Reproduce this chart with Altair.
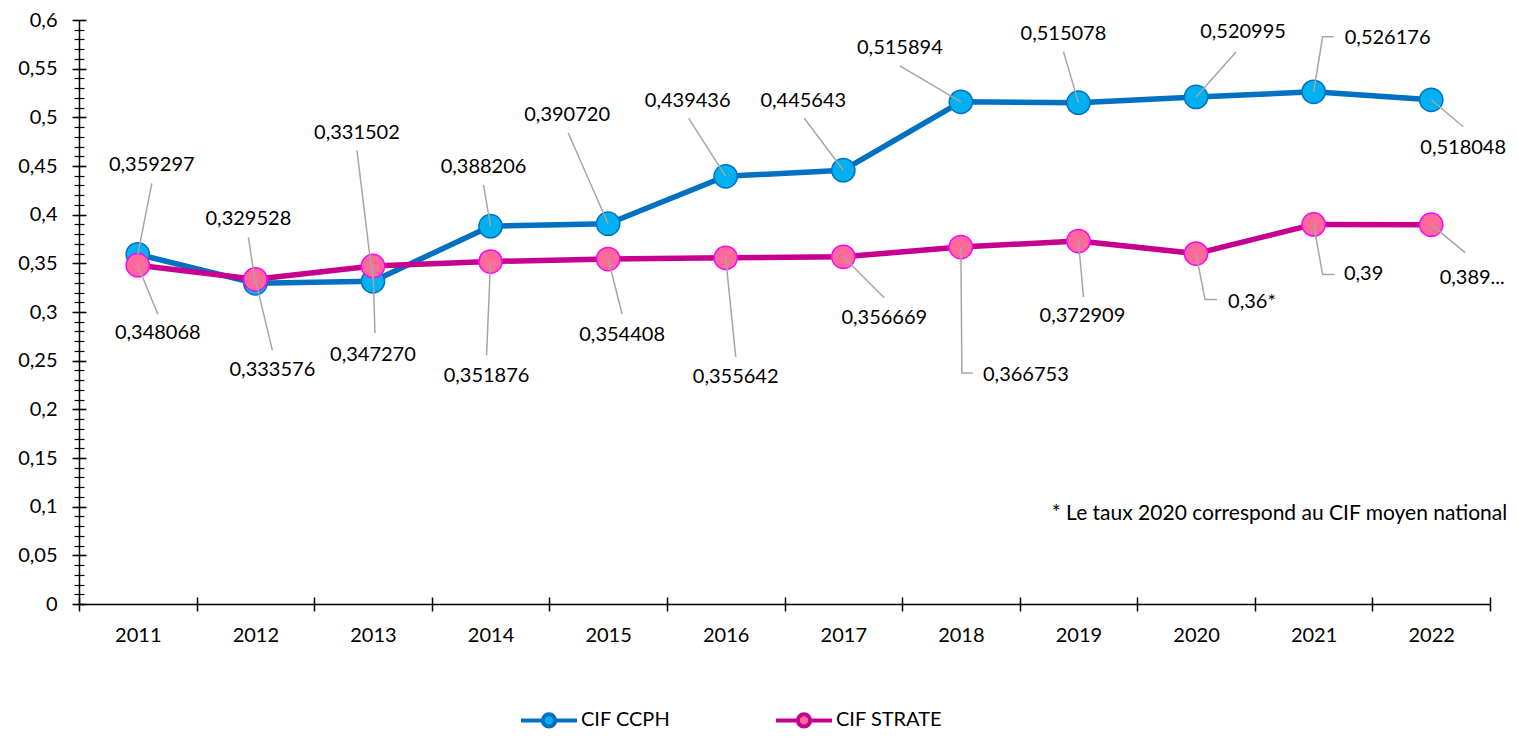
import altair as alt
import pandas as pd

# ---------------- data ----------------
YEARS = [2011, 2012, 2013, 2014, 2015, 2016, 2017, 2018, 2019, 2020, 2021, 2022]
SERIES = ["CIF CCPH", "CIF STRATE"]
CCPH = [0.359297, 0.329528, 0.331502, 0.388206, 0.390720, 0.439436,
        0.445643, 0.515894, 0.515078, 0.520995, 0.526176, 0.518048]
STRATE = [0.348068, 0.333576, 0.347270, 0.351876, 0.354408, 0.355642,
          0.356669, 0.366753, 0.372909, 0.36, 0.39, 0.3897]
CCPH_LABELS = ["0,359297", "0,329528", "0,331502", "0,388206", "0,390720", "0,439436",
               "0,445643", "0,515894", "0,515078", "0,520995", "0,526176", "0,518048"]
STRATE_LABELS = ["0,348068", "0,333576", "0,347270", "0,351876", "0,354408", "0,355642",
                 "0,356669", "0,366753", "0,372909", "0,36*", "0,39", "0,389..."]
NOTE = "* Le taux 2020 correspond au CIF moyen national"
NOTE_AT = (2020.71, 0.0925)

# ---------------- label layout (pixel offsets from each point: right, down) ----------------
CCPH_LABEL_OFFSETS = [(14, -89), (-7, -64), (-16, -148), (-7, -59), (-41, -109), (-38, -75),
                      (-40, -69), (-61, -54), (-15, -69), (47, -65), (74, -54), (32, 48)]
CCPH_LEADERS = [[(14, -71)], [(-7, -46)], [(-16, -131)], [(-7, -41)], [(-40, -91)], [(-37, -58)],
                [(-39, -52)], [(-61, -36)], [(-15, -51)], [(40, -45)], [(9, -55), (20, -55)], [(32, 27)]]
STRATE_LABEL_OFFSETS = [(20, 68), (17, 91), (0, 89), (-4, 114), (14, 76), (10, 119),
                        (41, 61), (65, 128), (4, 75), (56, 48), (50, 50), (41, 53)]
STRATE_LEADERS = [[(20, 49)], [(17, 71)], [(2, 67)], [(-4, 94)], [(14, 55)], [(10, 99)],
                  [(41, 41)], [(1, 126), (12, 126)], [(5, 56)], [(9, 46), (21, 46)],
                  [(9, 50), (21, 50)], [(34, 28)]]

# ---------------- geometry ----------------
W, H = 1411, 584
X_DOMAIN = [2010.5, 2022.5]
Y_DOMAIN = [0, 0.6]
PX_X = W / (X_DOMAIN[1] - X_DOMAIN[0])
PX_Y = H / (Y_DOMAIN[1] - Y_DOMAIN[0])

C_LINE, C_FILL, C_EDGE = "#0070C0", "#00B0F0", "#0070C0"
S_LINE, S_FILL, S_EDGE = "#C6008E", "#FF6A9A", "#FF00FF"
GREY = "#A6A6A6"
FONT = "Lato"

points, labels, leaders = [], [], []
for name, vals, texts, offs, legs in [
    (SERIES[0], CCPH, CCPH_LABELS, CCPH_LABEL_OFFSETS, CCPH_LEADERS),
    (SERIES[1], STRATE, STRATE_LABELS, STRATE_LABEL_OFFSETS, STRATE_LEADERS),
]:
    for yr, v, t, (dx, dy), verts in zip(YEARS, vals, texts, offs, legs):
        points.append({"series": name, "year": yr, "value": v})
        labels.append({"series": name, "text": t,
                       "lx": yr + dx / PX_X, "ly": v - dy / PX_Y})
        lid = f"{name}-{yr}"
        leaders.append({"id": lid, "k": 0, "lx": yr, "ly": v})
        for k, (ex, ey) in enumerate(verts, start=1):
            leaders.append({"id": lid, "k": k, "lx": yr + ex / PX_X, "ly": v - ey / PX_Y})

df_points = pd.DataFrame(points)
df_labels = pd.DataFrame(labels)
df_leaders = pd.DataFrame(leaders)
df_note = pd.DataFrame([{"lx": NOTE_AT[0], "ly": NOTE_AT[1], "text": NOTE}])

x_scale = alt.Scale(domain=X_DOMAIN, nice=False, zero=False)
y_scale = alt.Scale(domain=Y_DOMAIN, nice=False, zero=False)
stroke_scale = alt.Scale(domain=SERIES, range=[C_LINE, S_LINE])
fill_scale = alt.Scale(domain=SERIES, range=[C_FILL, S_FILL])

Y_MAJOR = [round(i * 0.05, 2) for i in range(13)]
Y_MINOR = [round(i * 0.01, 2) for i in range(61)]
X_BOUNDS = [X_DOMAIN[0] + i for i in range(13)]

x_main = alt.Axis(orient="bottom", values=YEARS, format="d", ticks=False, tickSize=0,
                  labelPadding=21, labelFont=FONT, labelFontSize=20, labelColor="black",
                  domainColor="black", domainWidth=1.5, grid=False, title=None,
                  labelFlush=False, labelOverlap=False)
x_ticks = alt.Axis(orient="bottom", values=X_BOUNDS, labels=False, domain=False,
                   tickSize=14, offset=-7, tickColor="black", tickWidth=1.5,
                   grid=False, title=None)
y_main = alt.Axis(orient="left", values=Y_MAJOR,
                  labelExpr="replace(format(datum.value, '.2~f'), '.', ',')",
                  ticks=False, tickSize=0, labelPadding=22, labelFont=FONT,
                  labelFontSize=20, labelColor="black", domainColor="black",
                  domainWidth=1.5, grid=False, title=None, labelFlush=False,
                  labelOverlap=False)
y_major = alt.Axis(orient="left", values=Y_MAJOR, labels=False, domain=False,
                   tickSize=14, offset=-7, tickColor="black", tickWidth=1.5,
                   grid=False, title=None)
y_minor = alt.Axis(orient="left", values=Y_MINOR, labels=False, domain=False,
                   tickSize=10, offset=-5, tickColor="black", tickWidth=1.2,
                   grid=False, title=None)

LEGEND_SYMBOL = ("M-1,0L-0.22,0M0.22,0L1,0"
                 "M0.22,0A0.22,0.22,0,1,1,-0.22,0A0.22,0.22,0,1,1,0.22,0Z")


def make_legend():
    return alt.Legend(
        title=None, orient="none", legendX=440, legendY=670, direction="horizontal",
        symbolType=LEGEND_SYMBOL, symbolSize=3136, symbolStrokeWidth=4,
        labelFont=FONT, labelFontSize=20, labelColor="black", labelOffset=2,
        columnPadding=97, padding=0, symbolOpacity=1,
    )


base = alt.Chart(df_points)

line_c = base.transform_filter(alt.datum.series == SERIES[0]).mark_line(
    strokeWidth=5.5, strokeJoin="round", strokeCap="round"
).encode(
    x=alt.X("year:Q", scale=x_scale, axis=x_main),
    y=alt.Y("value:Q", scale=y_scale, axis=y_main),
    stroke=alt.Stroke("series:N", scale=stroke_scale, legend=make_legend()),
)
pts_c = base.transform_filter(alt.datum.series == SERIES[0]).mark_circle(
    size=540, stroke=C_EDGE, strokeWidth=1.5, opacity=1
).encode(
    x=alt.X("year:Q", scale=x_scale, axis=x_ticks),
    y=alt.Y("value:Q", scale=y_scale, axis=y_major),
    fill=alt.Fill("series:N", scale=fill_scale, legend=make_legend()),
)
line_s = base.transform_filter(alt.datum.series == SERIES[1]).mark_line(
    strokeWidth=5.5, strokeJoin="round", strokeCap="round"
).encode(
    x=alt.X("year:Q", scale=x_scale, axis=None),
    y=alt.Y("value:Q", scale=y_scale, axis=y_minor),
    stroke=alt.Stroke("series:N", scale=stroke_scale, legend=make_legend()),
)
pts_s = base.transform_filter(alt.datum.series == SERIES[1]).mark_circle(
    size=540, stroke=S_EDGE, strokeWidth=1.5, opacity=1
).encode(
    x=alt.X("year:Q", scale=x_scale, axis=None),
    y=alt.Y("value:Q", scale=y_scale, axis=None),
    fill=alt.Fill("series:N", scale=fill_scale, legend=make_legend()),
)
leader_lines = alt.Chart(df_leaders).mark_line(color=GREY, strokeWidth=1.5).encode(
    x=alt.X("lx:Q", scale=x_scale, axis=None),
    y=alt.Y("ly:Q", scale=y_scale, axis=None),
    detail="id:N",
    order="k:Q",
)
label_text = alt.Chart(df_labels).mark_text(
    font=FONT, fontSize=20, color="black", align="center", baseline="middle"
).encode(
    x=alt.X("lx:Q", scale=x_scale, axis=None),
    y=alt.Y("ly:Q", scale=y_scale, axis=None),
    text="text:N",
)
note_text = alt.Chart(df_note).mark_text(
    font=FONT, fontSize=21, color="black", align="center", baseline="middle"
).encode(
    x=alt.X("lx:Q", scale=x_scale, axis=None),
    y=alt.Y("ly:Q", scale=y_scale, axis=None),
    text="text:N",
)

chart = alt.layer(
    line_c, pts_c, line_s, pts_s, leader_lines, label_text, note_text
).resolve_axis(
    x="independent", y="independent"
).properties(
    width=W, height=H, autosize="none",
    padding={"left": 71, "top": 12, "right": 19, "bottom": 129},
).configure_view(strokeWidth=0)

chart.save("out.html", embed_options={"renderer": "svg", "actions": False})
